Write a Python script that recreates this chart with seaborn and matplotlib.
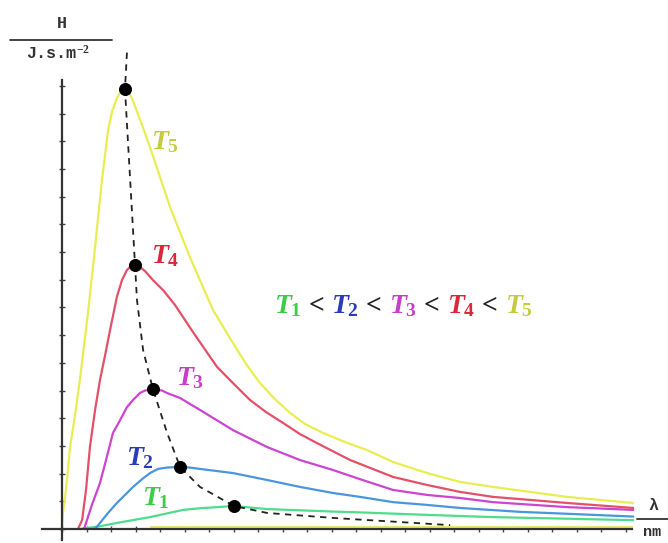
import pandas as pd
import seaborn as sns
import matplotlib.pyplot as plt

# values: x = wavelength (one tick = 100), y = H (one tick = 1)
t5_x = [0, 4, 16, 33, 53, 73, 106, 135, 163, 188, 205, 224, 240, 257, 272, 290, 322, 359, 441, 522, 616, 698, 751, 808, 869, 931, 992, 1065, 1155, 1245, 1351, 1490, 1624, 1759, 2061, 2331]
t5_y = [0, 0.58, 1.4, 2.96, 4.1, 5.38, 7.80, 10.18, 12.6, 14.4, 15.1, 15.55, 15.8, 15.88, 15.8, 15.45, 14.7, 13.79, 11.62, 9.82, 7.91, 6.71, 5.96, 5.27, 4.69, 4.19, 3.79, 3.47, 3.14, 2.85, 2.42, 2.02, 1.70, 1.52, 1.16, 0.94]

t4_x = [65, 82, 98, 114, 135, 155, 176, 196, 224, 245, 265, 282, 298, 320, 340, 371, 415, 461, 543, 633, 702, 767, 833, 902, 971, 1041, 1176, 1351, 1490, 1624, 1759, 2061, 2331]
t4_y = [0, 0.32, 1.41, 2.96, 4.3, 5.38, 6.28, 7.18, 8.38, 8.99, 9.35, 9.5, 9.53, 9.45, 9.3, 8.99, 8.6, 8.09, 7.0, 5.85, 5.23, 4.66, 4.22, 3.83, 3.43, 3.10, 2.49, 1.88, 1.59, 1.34, 1.16, 0.94, 0.76]

t3_x = [90, 122, 155, 180, 208, 237, 265, 290, 318, 339, 371, 408, 429, 482, 563, 698, 837, 971, 1106, 1216, 1351, 1490, 1624, 1759, 2061, 2331]
t3_y = [0, 0.87, 1.66, 2.5, 3.47, 3.93, 4.40, 4.66, 4.91, 5.0, 5.05, 5.0, 4.91, 4.73, 4.30, 3.57, 2.96, 2.49, 2.13, 1.80, 1.41, 1.23, 1.12, 0.97, 0.79, 0.69]

t2_x = [135, 188, 224, 257, 290, 327, 359, 392, 429, 482, 520, 563, 698, 837, 971, 1106, 1216, 1351, 1490, 1624, 1869, 2061, 2331]
t2_y = [0, 0.58, 0.94, 1.23, 1.52, 1.8, 2.02, 2.17, 2.22, 2.24, 2.22, 2.17, 2.02, 1.77, 1.52, 1.30, 1.16, 0.97, 0.87, 0.76, 0.62, 0.55, 0.45]

t1_x = [73, 155, 224, 359, 494, 563, 633, 702, 837, 1106, 1216, 1490, 1759, 2331]
t1_y = [0, 0.1, 0.22, 0.43, 0.69, 0.75, 0.79, 0.83, 0.72, 0.63, 0.60, 0.51, 0.43, 0.32]

# locus of the maxima
peak_x = [257, 298, 371, 482, 702]
peak_y = [15.88, 9.53, 5.05, 2.24, 0.83]
wien_x = [265, 257, 298, 306, 331, 371, 429, 482, 563, 702, 837, 1106, 1584]
wien_y = [17.2, 15.88, 9.53, 8.27, 6.46, 5.05, 3.47, 2.24, 1.52, 0.83, 0.58, 0.40, 0.14]

names = ["T1", "T2", "T3", "T4", "T5"]
line_colors = ["#4fdc8c", "#4a96dc", "#cc44d0", "#e45068", "#e8ee52"]
text_colors = ["#3ccc48", "#2a3cb8", "#c83cc8", "#d8283c", "#c4cc3c"]

frames = []
for n, xs, ys in zip(names, [t1_x, t2_x, t3_x, t4_x, t5_x], [t1_y, t2_y, t3_y, t4_y, t5_y]):
    frames.append(pd.DataFrame({"lam": xs, "H": ys, "T": n}))
curves = pd.concat(frames, ignore_index=True)

sns.set_style("white")
plt.rcParams["mathtext.fontset"] = "custom"
plt.rcParams["mathtext.it"] = "Liberation Serif:italic:bold"
plt.rcParams["mathtext.rm"] = "Liberation Serif:bold"

fig = plt.figure(figsize=(6.68, 5.43), dpi=100)
ax = fig.add_axes([0, 0, 1, 1])
ax.set_xlim(-253, 2473)
ax.set_ylim(-0.505, 19.10)

ax.hlines(0.08, 360, 2330, color="#e4e870", lw=1.6, zorder=1)
sns.lineplot(data=curves, x="lam", y="H", hue="T", palette=dict(zip(names, line_colors)),
             sort=False, estimator=None, lw=1.6, legend=False, ax=ax, zorder=2)
sns.lineplot(x=wien_x, y=wien_y, sort=False, estimator=None, color="#222222",
             lw=1.3, ls=(0, (3.5, 3)), ax=ax, zorder=3)
sns.scatterplot(x=peak_x, y=peak_y, color="black", s=75, edgecolor="black", ax=ax, zorder=4)

# axes drawn through the origin
for s in ["top", "right"]:
    ax.spines[s].set_visible(False)
ax.spines["left"].set_position(("data", 0))
ax.spines["bottom"].set_position(("data", 0))
ax.spines["left"].set_bounds(-0.4, 16.2)
ax.spines["bottom"].set_bounds(-82, 2327)
for s in ["left", "bottom"]:
    ax.spines[s].set_color("#333333")
    ax.spines[s].set_linewidth(1.6)
ax.set_xticks(range(0, 2400, 100))
ax.set_yticks(range(0, 17))
ax.set_xticklabels([])
ax.set_yticklabels([])
ax.tick_params(direction="inout", length=5, width=1, color="#444444", left=True, bottom=True)
ax.set_xlabel("")
ax.set_ylabel("")

# axis labels as fractions
mono = dict(family="Liberation Mono", weight="bold", color="#333333", fontsize=12,
            ha="center", transform=ax.transAxes)
ax.text(62 / 668, 1 - 24 / 543, "H", va="center", **mono)
ax.text(58 / 668, 1 - 53 / 543, "J.s.m$^{-2}$", va="center", **mono)
ax.plot([10 / 668, 112 / 668], [1 - 40 / 543] * 2, color="#333333", lw=1.3,
        transform=ax.transAxes, clip_on=False)
ax.text(653 / 668, 1 - 505 / 543, "λ", va="center", **mono)
mono["fontsize"] = 11
ax.text(652 / 668, 1 - 532 / 543, "nm", va="center", **mono)
ax.plot([637 / 668, 1.0], [1 - 519 / 543] * 2, color="#333333", lw=1.3,
        transform=ax.transAxes, clip_on=False)

# curve labels
label_pos = [(385, 1.15), (318, 2.6), (522, 5.5), (420, 9.9), (420, 14.0)]
for n, (lx, ly), c in zip(names, label_pos, text_colors):
    ax.text(lx, ly, "$T_%s$" % n[1], color=c, fontsize=20, va="center", ha="center")

# T1 < T2 < T3 < T4 < T5
prev = ax.text(865, 7.8, "$T_1$", color=text_colors[0], fontsize=20, va="baseline", ha="left")
for i in range(1, 5):
    prev = ax.annotate(" < ", xy=(1, 0), xycoords=prev, va="bottom", ha="left",
                       fontsize=20, color="#222222", family="Liberation Serif", weight="bold")
    prev = ax.annotate("$T_%d$" % (i + 1), xy=(1, 0), xycoords=prev, va="bottom", ha="left",
                       fontsize=20, color=text_colors[i])

fig.savefig("out.png", dpi=100)
